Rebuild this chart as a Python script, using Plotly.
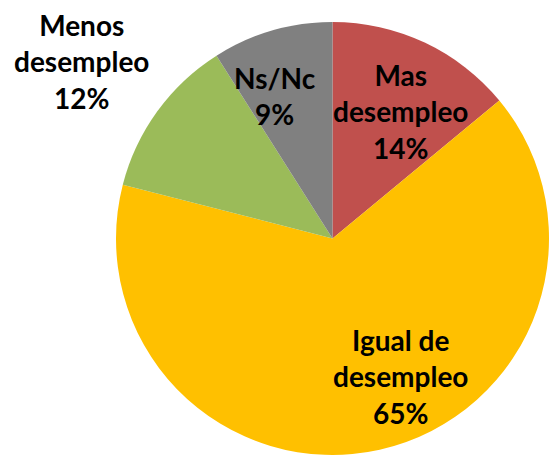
import plotly.graph_objects as go

# slices, clockwise from 12 o'clock
categorias = ["Mas desempleo", "Igual de desempleo", "Menos desempleo", "Ns/Nc"]
porcentajes = [14, 65, 12, 9]
colores = ["#C0504D", "#FFC000", "#9BBB59", "#808080"]

# label text as Excel wraps it
etiquetas = ["Mas<br>desempleo", "Igual de<br>desempleo", "Menos<br>desempleo", "Ns/Nc"]
# label centres in paper coords
pos_etiquetas = [(0.729, 0.757), (0.730, 0.177), (0.149, 0.866), (0.501, 0.790)]

fig = go.Figure(
    go.Pie(
        labels=categorias,
        values=porcentajes,
        marker=dict(colors=colores, line=dict(width=0)),
        sort=False,
        direction="clockwise",
        rotation=0,
        textinfo="none",
        showlegend=False,
        domain=dict(x=[116 / 549, 1], y=[2 / 457, 1 - 22 / 457]),
    )
)

for txt, val, (x, y) in zip(etiquetas, porcentajes, pos_etiquetas):
    fig.add_annotation(
        x=x, y=y, xref="paper", yref="paper",
        xanchor="center", yanchor="middle",
        text=f"<b>{txt}<br>{val}%</b>",
        showarrow=False,
        font=dict(family="Lato", size=28, color="black"),
        align="center",
    )

fig.update_layout(
    width=549,
    height=457,
    margin=dict(l=0, r=0, t=0, b=0),
    paper_bgcolor="white",
    plot_bgcolor="white",
)

# drop the browser's default 8px body margin so the figure fills the window
fig.write_html(
    "out.html",
    config={"displayModeBar": False},
    post_script="document.body.style.margin='0';",
)
